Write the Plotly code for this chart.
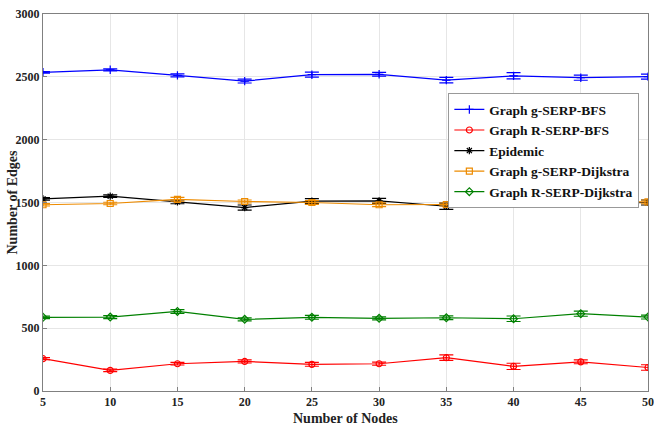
import plotly.graph_objects as go

nodes = [5, 10, 15, 20, 25, 30, 35, 40, 45, 50]

g_bfs = [2536, 2556, 2512, 2466, 2517, 2520, 2474, 2508, 2493, 2502]
g_bfs_err = [6, 8, 12, 15, 20, 15, 22, 25, 20, 20]

r_bfs = [257, 164, 217, 235, 212, 217, 265, 196, 232, 187]
r_bfs_err = [8, 10, 10, 12, 15, 12, 22, 25, 15, 22]

epidemic = [1529, 1550, 1505, 1460, 1511, 1513, 1470, 1505, 1488, 1500]
epidemic_err = [10, 10, 15, 20, 20, 20, 25, 20, 25, 20]

g_dij = [1482, 1492, 1525, 1508, 1500, 1482, 1484, 1495, 1508, 1505]
g_dij_err = [10, 10, 15, 12, 15, 15, 12, 15, 15, 15]

r_dij = [586, 588, 633, 570, 586, 578, 583, 575, 615, 588]
r_dij_err = [10, 12, 15, 12, 15, 12, 15, 22, 20, 15]

names = ["Graph g-SERP-BFS", "Graph R-SERP-BFS", "Epidemic",
         "Graph g-SERP-Dijkstra", "Graph R-SERP-Dijkstra"]
series = [g_bfs, r_bfs, epidemic, g_dij, r_dij]
errors = [g_bfs_err, r_bfs_err, epidemic_err, g_dij_err, r_dij_err]
colors = ["#0000ff", "#ff0000", "#000000", "#ed8b00", "#008000"]
symbols = ["cross-thin-open", "circle-open", "asterisk-open", "square-open", "diamond-open"]

fig = go.Figure()
for n, y, e, c, s in zip(names, series, errors, colors, symbols):
    fig.add_trace(go.Scatter(
        x=nodes, y=y, name=n, mode="lines+markers",
        line=dict(color=c, width=1.2),
        marker=dict(symbol=s, size=6, color=c, line=dict(color=c, width=1.2)),
        error_y=dict(type="data", array=e, visible=True, color=c, thickness=1.2, width=7),
    ))

font = "Liberation Serif, Times New Roman, serif"
fig.update_layout(
    width=654, height=428,
    margin=dict(l=43, r=6, t=14, b=37, autoexpand=False),
    paper_bgcolor="white", plot_bgcolor="white",
    font=dict(family=font, size=12, color="#222222"),
    showlegend=True,
    legend=dict(
        x=0.670, y=0.79, xanchor="left", yanchor="top",
        bgcolor="white", bordercolor="#999999", borderwidth=1,
        font=dict(family=font, size=13.5, color="#111111", weight="bold"),
        itemwidth=30, tracegroupgap=0,
    ),
    xaxis=dict(
        range=[5, 50], tickvals=nodes, ticks="inside", ticklen=4,
        showgrid=True, gridcolor="#e6e6e6", zeroline=False, automargin=False,
        showline=True, linecolor="#808080", linewidth=1, mirror=True,
        tickcolor="#808080",
        tickfont=dict(family=font, size=12, weight="bold", color="#222222"),
    ),
    yaxis=dict(
        range=[0, 3000], tickvals=[0, 500, 1000, 1500, 2000, 2500, 3000],
        ticks="inside", ticklen=4,
        showgrid=True, gridcolor="#e6e6e6", zeroline=False, automargin=False,
        showline=True, linecolor="#808080", linewidth=1, mirror=True,
        tickcolor="#808080",
        tickfont=dict(family=font, size=12, weight="bold", color="#222222"),
    ),
    annotations=[
        dict(text="Number of Nodes", xref="paper", yref="paper", x=0.5, y=0,
             yshift=-27, xanchor="center", yanchor="middle", showarrow=False,
             font=dict(family=font, size=14, weight="bold", color="#222222")),
        dict(text="Number of Edges", xref="paper", yref="paper", x=0, y=0.5,
             xshift=-31, xanchor="center", yanchor="middle", showarrow=False,
             textangle=-90,
             font=dict(family=font, size=14, weight="bold", color="#222222")),
    ],
)

fig.write_html("out.html", config={"displayModeBar": False},
               post_script="document.body.style.margin='0';document.body.style.overflow='hidden';")
